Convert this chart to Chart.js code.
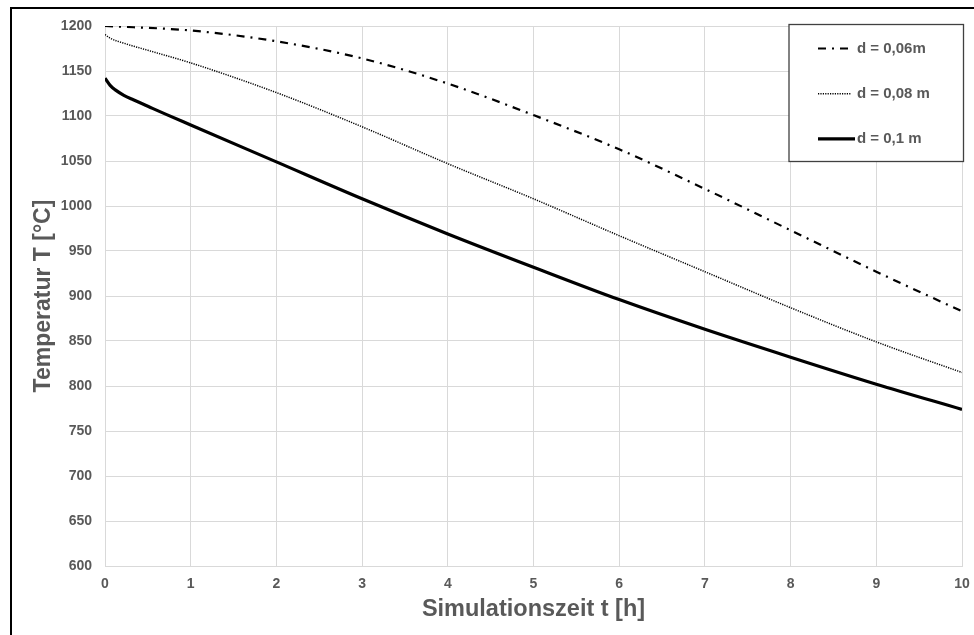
<!DOCTYPE html>
<html>
<head>
<meta charset="utf-8">
<script src="https://cdn.jsdelivr.net/npm/chart.js@4/dist/chart.umd.min.js"></script>
<style>
    html, body { margin: 0; padding: 0; background: #fff; overflow: hidden; }
    .frame { position: absolute; left: 10px; top: 7px; width: 1000px; height: 700px; border: 2px solid #000; }
    #chart { position: absolute; left: 0; top: 0; }
</style>
</head>
<body>
<div class="frame"></div>
<canvas id="chart" width="974" height="635"></canvas>
<script>
// Abkühlkurven, Werte
const hours006 = [0, 1, 2, 3, 4, 5, 6, 7, 8, 9, 10];
const temp006 = [1200, 1195, 1183, 1164, 1136, 1101, 1063, 1019, 973, 927, 883];

const hours008 = [0, 0.06, 0.25, 0.5, 1, 2, 3, 4, 5, 6, 7, 8, 9, 10];
const temp008 = [1190.5, 1186.5, 1180, 1173, 1159, 1126, 1088, 1047, 1008, 967, 927, 887, 849, 815];

const hours01 = [0, 0.06, 0.12, 0.22, 0.33, 0.53, 0.72, 1, 2, 3, 4, 5, 6, 7, 8, 9, 10];
const temp01 = [1142, 1134, 1129, 1123, 1118, 1109.5, 1101.5, 1090, 1049, 1008, 969, 932, 896, 863, 832, 802, 774];

const seriesLabels = ['d = 0,06m', 'd = 0,08 m', 'd = 0,1 m'];
const xTicks = [0, 1, 2, 3, 4, 5, 6, 7, 8, 9, 10];
const yTicks = [600, 650, 700, 750, 800, 850, 900, 950, 1000, 1050, 1100, 1150, 1200];

const textGray = '#595959';
const gridGray = '#d9d9d9';

function toPoints(xs, ys) {
    return xs.map(function (x, i) { return { x: x, y: ys[i] }; });
}

// Legende als Kasten oben rechts
const boxLegend = {
    id: 'boxLegend',
    afterDraw: function (chart) {
        const ctx = chart.ctx;
        ctx.save();
        ctx.fillStyle = '#fff';
        ctx.fillRect(789, 24.5, 174.5, 137);
        ctx.strokeStyle = '#404040';
        ctx.lineWidth = 1.3;
        ctx.strokeRect(789, 24.5, 174.5, 137);
        chart.data.datasets.forEach(function (ds, i) {
            const y = 48.5 + i * 45.2;
            ctx.beginPath();
            ctx.setLineDash(ds.borderDash || []);
            ctx.lineWidth = ds.borderWidth;
            ctx.strokeStyle = ds.borderColor;
            ctx.moveTo(818, y);
            ctx.lineTo(i === 2 ? 855 : 851, y);
            ctx.stroke();
            ctx.setLineDash([]);
            ctx.fillStyle = textGray;
            ctx.font = 'bold 15px "Liberation Sans", Arial, sans-serif';
            ctx.textBaseline = 'middle';
            ctx.textAlign = 'left';
            ctx.fillText(ds.label, 857, y);
        });
        ctx.restore();
    }
};

document.addEventListener("DOMContentLoaded", function () {
    Chart.defaults.font.family = '"Liberation Sans", Arial, sans-serif';
    Chart.defaults.color = textGray;

    const ctx = document.getElementById('chart');
    new Chart(ctx, {
        type: 'line',
        data: {
            datasets: [{
                label: seriesLabels[0],
                data: toPoints(hours006, temp006),
                borderColor: '#000',
                borderWidth: 2.2,
                borderDash: [8, 6, 2, 6]
            }, {
                label: seriesLabels[1],
                data: toPoints(hours008, temp008),
                borderColor: '#000',
                borderWidth: 1.5,
                borderDash: [1.2, 1.2]
            }, {
                label: seriesLabels[2],
                data: toPoints(hours01, temp01),
                borderColor: '#000',
                borderWidth: 3.2
            }]
        },
        options: {
            responsive: false,
            animation: false,
            parsing: false,
            layout: { padding: { left: 16, top: 26, right: 12, bottom: 0 } },
            elements: {
                point: { radius: 0 },
                line: { cubicInterpolationMode: 'monotone', fill: false }
            },
            plugins: {
                legend: { display: false },
                tooltip: { enabled: false }
            },
            scales: {
                x: {
                    type: 'linear',
                    min: 0,
                    max: 10,
                    afterFit: function (scale) {
                        scale.height = 69;
                        scale.paddingLeft = 0;
                        scale.paddingRight = 0;
                    },
                    afterBuildTicks: function (scale) {
                        scale.ticks = xTicks.map(function (v) { return { value: v }; });
                    },
                    ticks: {
                        padding: 10,
                        font: { size: 14, weight: 'bold' },
                        maxRotation: 0,
                        callback: function (v) { return String(v); }
                    },
                    grid: { color: gridGray, drawTicks: false },
                    border: { color: gridGray },
                    title: {
                        display: true,
                        text: 'Simulationszeit t [h]',
                        font: { size: 23.5, weight: 'bold' },
                        padding: { bottom: 11 }
                    }
                },
                y: {
                    min: 600,
                    max: 1200,
                    afterFit: function (scale) { scale.width = 89; },
                    afterBuildTicks: function (scale) {
                        scale.ticks = yTicks.map(function (v) { return { value: v }; });
                    },
                    ticks: {
                        padding: 13,
                        font: { size: 14, weight: 'bold' },
                        callback: function (v) { return String(v); }
                    },
                    grid: { color: gridGray, drawTicks: false },
                    border: { color: gridGray },
                    title: {
                        display: true,
                        text: 'Temperatur T [°C]',
                        font: { size: 23, weight: 'bold' },
                        padding: { top: 14 }
                    }
                }
            }
        },
        plugins: [boxLegend]
    });
});
</script>
</body>
</html>
